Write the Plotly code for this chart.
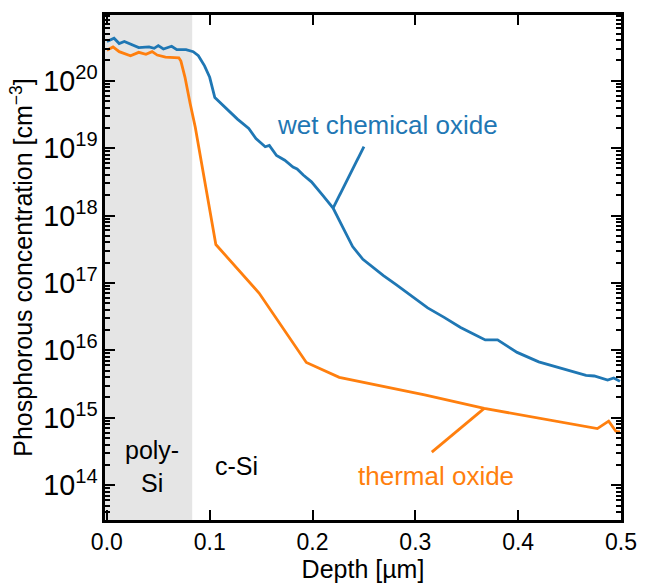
import plotly.graph_objects as go

# ---- data (depth in µm, concentration in cm^-3 given as log10) ----
wet_depth = [0.000, 0.007, 0.012, 0.017, 0.031, 0.041, 0.046, 0.050, 0.055, 0.063, 0.068, 0.077,
             0.084, 0.089, 0.095, 0.100, 0.105, 0.111, 0.118, 0.127, 0.138, 0.145, 0.154, 0.158,
             0.165, 0.173, 0.181, 0.185, 0.191, 0.199, 0.210, 0.220, 0.229, 0.239, 0.249, 0.261,
             0.269, 0.281, 0.297, 0.312, 0.328, 0.344, 0.357, 0.368, 0.380, 0.399, 0.420, 0.444,
             0.466, 0.474, 0.487, 0.493, 0.499]
wet_log = [20.58, 20.63, 20.55, 20.58, 20.49, 20.50, 20.48, 20.52, 20.47, 20.51, 20.46, 20.46,
           20.43, 20.37, 20.22, 20.05, 19.75, 19.66, 19.56, 19.43, 19.29, 19.14, 19.02, 19.04,
           18.89, 18.82, 18.72, 18.69, 18.60, 18.50, 18.30, 18.11, 17.84, 17.54, 17.35, 17.20,
           17.11, 16.98, 16.80, 16.63, 16.49, 16.34, 16.24, 16.155, 16.155, 15.97, 15.83, 15.72,
           15.63, 15.62, 15.56, 15.59, 15.54]

th_depth = [0.000, 0.006, 0.012, 0.023, 0.031, 0.038, 0.044, 0.049, 0.057, 0.070, 0.072, 0.076,
            0.081, 0.086, 0.106, 0.148, 0.194, 0.226, 0.309, 0.367, 0.477, 0.488, 0.495, 0.499]
th_log = [20.45, 20.50, 20.43, 20.37, 20.42, 20.39, 20.43, 20.38, 20.35, 20.34, 20.29, 20.05,
          19.66, 19.31, 17.57, 16.85, 15.82, 15.60, 15.34, 15.14, 14.84, 14.95, 14.80, 14.79]

wet_conc = [10 ** v for v in wet_log]
th_conc = [10 ** v for v in th_log]

poly_si_end = 0.083
x_range = [-0.0018, 0.5]
y_range_log = [13.484, 20.974]

# annotation pointer lines (data coords: depth, log10 conc)
wet_pointer = [(0.220, 18.11), (0.250, 19.02)]
th_pointer = [(0.367, 15.14), (0.316, 14.49)]

BLUE = "#1f77b4"
ORANGE = "#ff7f0e"
FONT = "Liberation Sans, Arial, sans-serif"

fig = go.Figure()
fig.add_trace(go.Scatter(x=wet_depth, y=wet_conc, mode="lines",
                         line=dict(color=BLUE, width=2.8), name="wet chemical oxide"))
fig.add_trace(go.Scatter(x=th_depth, y=th_conc, mode="lines",
                         line=dict(color=ORANGE, width=2.8), name="thermal oxide"))

# poly-Si shaded region
fig.add_shape(type="rect", xref="x", yref="paper", x0=x_range[0], x1=poly_si_end, y0=0, y1=1,
              fillcolor="#e5e5e5", line=dict(width=0), layer="below")

for pts, col in [(wet_pointer, BLUE), (th_pointer, ORANGE)]:
    fig.add_shape(type="line", xref="x", yref="y",
                  x0=pts[0][0], y0=10 ** pts[0][1], x1=pts[1][0], y1=10 ** pts[1][1],
                  line=dict(color=col, width=2.8))

fig.add_annotation(x=0.273, y=19.34, text="wet chemical oxide", showarrow=False,
                   font=dict(color=BLUE, size=26, family=FONT))
fig.add_annotation(x=0.320, y=14.13, text="thermal oxide", showarrow=False,
                   font=dict(color=ORANGE, size=26, family=FONT))
fig.add_annotation(x=0.044, y=14.28, text="poly-<br>Si", showarrow=False,
                   font=dict(color="black", size=25, family=FONT))
fig.add_annotation(x=0.126, y=14.28, text="c-Si", showarrow=False,
                   font=dict(color="black", size=25, family=FONT))

fig.update_xaxes(range=x_range, dtick=0.1, tick0=0, tickformat=".1f",
                 showline=True, linecolor="black", linewidth=2.5, mirror="ticks",
                 ticks="inside", ticklen=10, tickwidth=2, tickcolor="black",
                 showgrid=False, zeroline=False,
                 tickfont=dict(size=23, color="black", family=FONT),
                 title=dict(text="Depth [µm]", font=dict(size=25, color="black", family=FONT),
                            standoff=2))
fig.update_yaxes(type="log", range=y_range_log, dtick=1, exponentformat="power",
                 showline=True, linecolor="black", linewidth=2.5, mirror="ticks",
                 ticks="inside", ticklen=10, tickwidth=2, tickcolor="black",
                 minor=dict(ticks="inside", ticklen=5, tickwidth=1.5, tickcolor="black", showgrid=False),
                 showgrid=False, zeroline=False,
                 tickfont=dict(size=23, color="black", family=FONT),
                 title=dict(text="Phosphorous concentration [cm<sup>−3</sup>]",
                            font=dict(size=25, color="black", family=FONT), standoff=4))

fig.update_layout(width=649, height=587, margin=dict(l=105, r=20, t=14, b=65),
                  plot_bgcolor="white", paper_bgcolor="white", showlegend=False)

fig.write_html("out.html")
